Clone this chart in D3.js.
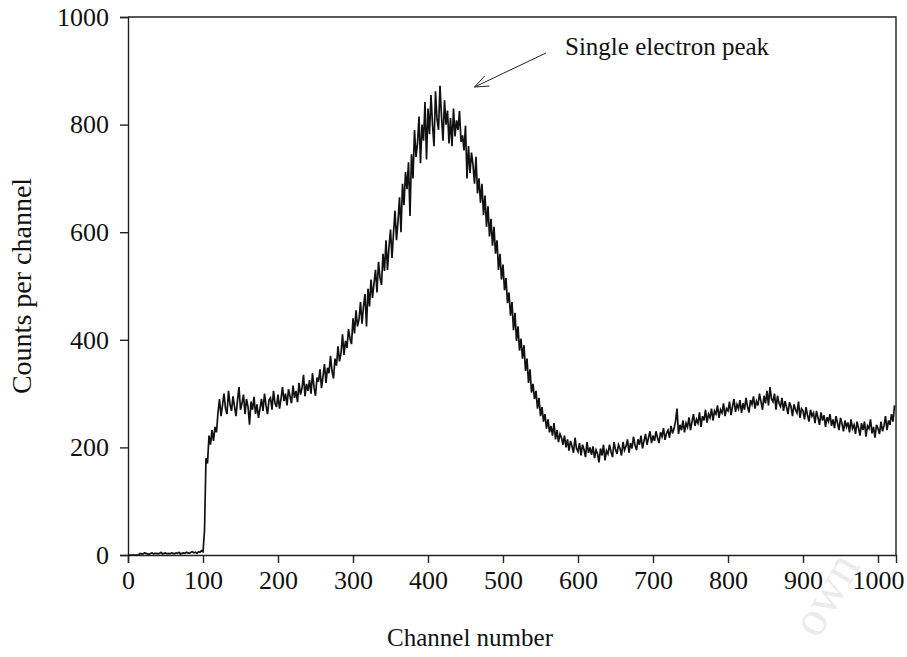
<!DOCTYPE html>
<html>
<head>
<meta charset="utf-8">
<script src="https://cdn.jsdelivr.net/npm/d3@7"></script>
<style>
  body { margin: 0; background: #fff; }
  text { font-family: "Liberation Serif", "Times New Roman", serif; }
</style>
</head>
<body>
<div id="chart"></div>
<script>
// one value per 2 channels, channel 0 .. 1022
var binWidth = 2;
var counts = [
  0, 0, 0, 0, 0, 0, 0, 0, 3, 2,
  2, 4, 3, 2, 1, 3, 4, 2, 3, 3,
  2, 3, 5, 2, 3, 4, 2, 3, 2, 4,
  3, 2, 4, 3, 5, 2, 3, 4, 3, 5,
  4, 3, 5, 6, 4, 5, 3, 6, 5, 8,
  6, 45, 180, 170, 222, 205, 232, 212, 238, 228,
  265, 290, 258, 278, 300, 272, 262, 305, 280, 268,
  295, 276, 258, 288, 312, 270, 282, 298, 262, 290,
  276, 242, 285, 270, 294, 262, 280, 255, 272, 290,
  268, 300, 278, 262, 288, 292, 270, 305, 282, 275,
  298, 272, 290, 312, 286, 300, 278, 308, 295, 282,
  315, 292, 305, 284, 320, 298, 310, 335, 295, 318,
  305, 325, 300, 338, 312, 296, 330, 322, 345, 310,
  332, 355, 320, 348, 338, 370, 342, 328, 365, 352,
  388, 360, 375, 410, 372, 398, 385, 420, 402, 392,
  440, 412, 455, 425, 438, 470, 430, 462, 485, 425,
  495, 462, 512, 478, 505, 530, 488, 545, 515, 502,
  560, 528, 585, 530, 572, 605, 552, 598, 640, 585,
  620, 665, 600, 690, 650, 712, 680, 730, 630, 745,
  700, 790, 740, 765, 815, 728, 800, 770, 842, 735,
  830, 782, 855, 800, 760, 862, 810, 790, 872, 815,
  770, 845, 800, 826, 765, 812, 760, 830, 778, 808,
  790, 825, 768, 780, 752, 798, 700, 760, 710, 748,
  725, 690, 740, 672, 700, 655, 690, 632, 668, 610,
  648, 592, 625, 575, 610, 560, 585, 530, 560, 512,
  540, 492, 515, 468, 488, 445, 470, 418, 450, 398,
  425, 380, 402, 365, 390, 342, 365, 320, 345, 302,
  318, 290, 305, 272, 292, 258, 275, 248, 262, 235,
  252, 228, 240, 222, 245, 215, 232, 210, 225, 218,
  205, 222, 200, 215, 194, 212, 202, 190, 218, 198,
  192, 208, 185, 205, 196, 182, 210, 190, 200, 186,
  202, 180, 195, 188, 172, 198, 185, 205, 176, 194,
  188, 205, 192, 182, 210, 196, 188, 205, 198, 185,
  210, 195, 202, 215, 190, 208, 198, 220, 204, 195,
  215, 205, 222, 198, 212, 225, 205, 218, 230, 208,
  222, 212, 230, 218, 208, 228, 220, 236, 214, 226,
  232, 218, 240, 226, 235, 248, 272, 225, 242, 232,
  250, 228, 245, 238, 256, 232, 248, 262, 240, 252,
  245, 265, 238, 258, 250, 270, 246, 262, 255, 272,
  250, 268, 262, 278, 255, 270, 264, 282, 258, 272,
  268, 285, 260, 276, 290, 266, 280, 272, 288, 264,
  282, 270, 292, 276, 265, 288, 280, 295, 272, 286,
  278, 300, 285, 270, 296, 282, 305, 278, 312, 290,
  285, 300, 270, 296, 282, 276, 292, 268, 286, 275,
  262, 284, 276, 258, 280, 270, 264, 285, 255, 272,
  268, 252, 275, 260, 248, 270, 258, 264, 245, 268,
  255, 242, 265, 250, 260, 238, 256, 248, 262, 240,
  252, 236, 258, 245, 232, 255, 244, 230, 250, 238,
  246, 228, 252, 235, 242, 225, 248, 236, 222, 245,
  232, 248, 220, 240, 235, 252, 226, 238, 218, 242,
  235, 225, 248, 230, 240, 258, 232, 250, 242, 262,
  248, 278
];
var xTicks = [0, 100, 200, 300, 400, 500, 600, 700, 800, 900, 1000];
var yTicks = [0, 200, 400, 600, 800, 1000];
var xTitle = "Channel number";
var yTitle = "Counts per channel";
var noteText = "Single electron peak";
var notePoint = [458, 868]; // channel, count the arrow points at

var width = 907, height = 657;
var margin = {left: 128, right: 11, top: 17, bottom: 102};

var svg = d3.select("#chart").append("svg")
    .attr("width", width).attr("height", height);

var x = d3.scaleLinear().domain([0, 1024]).range([margin.left, width - margin.right]);
var y = d3.scaleLinear().domain([0, 1000]).range([height - margin.bottom, margin.top]);

/*Watermark (sits behind everything)*/
svg.append("text")
    .attr("transform", "translate(818,640) rotate(-60)")
    .style("font-size", "50px")
    .style("fill", "#ebebeb")
    .text("own");

/*Frame*/
svg.append("path")
    .attr("d", "M" + x(0) + "," + y(1000) + "H" + x(1024) + "V" + y(0))
    .attr("fill", "none").attr("stroke", "#222").attr("stroke-width", 1.4);

/*Axes*/
var gx = svg.append("g")
    .attr("transform", "translate(0," + y(0) + ")")
    .call(d3.axisBottom(x).tickValues(xTicks).tickFormat(d3.format("d")).tickSizeOuter(0).tickSize(8).tickPadding(8));
var gy = svg.append("g")
    .attr("transform", "translate(" + x(0) + ",0)")
    .call(d3.axisLeft(y).tickValues(yTicks).tickFormat(d3.format("d")).tickSizeOuter(0).tickSize(8).tickPadding(11));
[gx, gy].forEach(function(g){
  g.select(".domain").attr("stroke", "#222").attr("stroke-width", 1.4);
  g.selectAll(".tick line").attr("stroke", "#222").attr("stroke-width", 1.4);
  g.selectAll(".tick text")
      .style("font-size", "26px")
      .style("font-family", "Liberation Serif")
      .style("fill", "#111");
});

/*Titles*/
svg.append("text")
    .attr("x", 470).attr("y", 646)
    .attr("text-anchor", "middle").style("font-size", "25px").style("fill", "#111")
    .text(xTitle);
svg.append("text")
    .attr("transform", "translate(31," + ((y(0) + y(1000)) / 2) + ") rotate(-90)")
    .attr("text-anchor", "middle").style("font-size", "28px").style("fill", "#111")
    .text(yTitle);

/*Spectrum*/
var line = d3.line()
    .x(function(d, i){ return x(i * binWidth); })
    .y(function(d){ return y(d); });
svg.append("path")
    .datum(counts)
    .attr("d", line)
    .attr("fill", "none").attr("stroke", "#111").attr("stroke-width", 1.7);

/*Annotation*/
var tip = [x(notePoint[0]) + 3, y(notePoint[1]) - 1];
var tail = [546, 53];
svg.append("line")
    .attr("x1", tail[0]).attr("y1", tail[1]).attr("x2", tip[0]).attr("y2", tip[1])
    .attr("stroke", "#222").attr("stroke-width", 1);
var ang = Math.atan2(tail[1] - tip[1], tail[0] - tip[0]);
var head = [ang - 0.38, ang + 0.38].map(function(a){
  return [tip[0] + 15 * Math.cos(a), tip[1] + 15 * Math.sin(a)];
});
svg.append("path")
    .attr("d", "M" + head[0] + "L" + tip + "L" + head[1])
    .attr("fill", "none").attr("stroke", "#222").attr("stroke-width", 1);
svg.append("text")
    .attr("x", 565).attr("y", 55)
    .style("font-size", "25px").style("fill", "#111")
    .text(noteText);
</script>
</body>
</html>
